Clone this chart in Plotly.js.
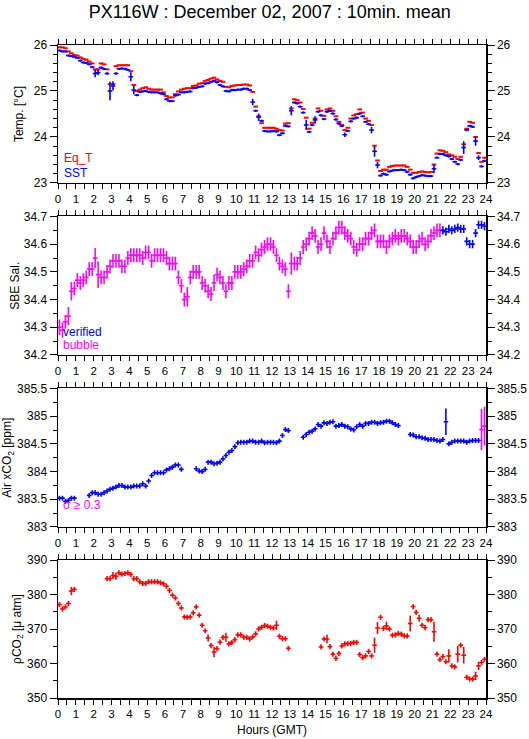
<!DOCTYPE html>
<html>
<head>
<meta charset="utf-8">
<script src="https://cdn.plot.ly/plotly-3.0.1.min.js"></script>
<style>html,body{margin:0;padding:0;background:#fff;}#chart{width:529px;height:739px;}</style>
</head>
<body>
<div id="chart"></div>
<script>
// ---- data: 10-minute means, 6 bins per hour (rows = hours 0..23) ----
const eqT = [
 25.95,25.95,25.93,25.86,25.82,25.78,
 25.77,25.73,25.70,25.68,25.64,25.60,
 25.47,25.47,25.60,25.58,25.47,25.15,
 25.15,25.54,25.56,25.56,25.56,25.56,
 25.43,25.13,25.00,25.03,25.06,25.08,
 25.05,25.03,25.03,25.03,25.03,24.97,
 24.89,24.86,24.86,24.93,24.99,25.03,
 25.05,25.06,25.06,25.11,25.12,25.16,
 25.17,25.22,25.24,25.27,25.29,25.25,
 25.22,25.20,25.09,25.08,25.11,25.12,
 25.13,25.13,25.14,25.14,25.12,24.98,
 24.66,24.45,24.30,24.20,24.20,24.20,
 24.20,24.18,24.15,24.14,24.29,24.30,
 24.62,24.82,24.80,24.75,24.61,24.42,
 24.18,24.31,24.40,24.62,24.57,24.46,
 24.60,24.62,24.57,24.45,24.33,24.26,
 24.15,24.20,24.40,24.47,24.50,24.60,
 24.53,24.40,24.35,24.26,23.81,23.49,
 23.26,23.29,23.29,23.35,23.37,23.38,
 23.38,23.38,23.38,23.35,23.29,23.22,
 23.22,23.24,23.25,23.24,23.23,23.24,
 23.40,23.64,23.71,23.70,23.67,23.62,
 23.60,23.57,23.52,23.57,23.84,24.18,
 24.33,24.31,24.00,23.65,23.46,23.55];
const sst = [
 25.88,25.86,25.86,25.77,25.76,25.74,
 25.72,25.66,25.62,25.61,25.58,25.52,
 25.38,25.40,25.51,25.48,25.38,25.00,
 25.11,25.38,25.48,25.49,25.48,25.46,
 25.31,25.02,24.91,24.98,24.99,25.00,
 24.98,24.97,24.97,24.97,24.95,24.93,
 24.82,24.78,24.78,24.90,24.92,24.97,
 24.97,24.98,24.99,25.06,25.07,25.09,
 25.10,25.16,25.17,25.20,25.22,25.19,
 25.13,25.10,25.00,24.99,25.02,25.02,
 25.03,25.03,25.05,25.05,25.02,24.76,
 24.57,24.43,24.35,24.13,24.12,24.12,
 24.13,24.12,24.04,24.08,24.24,24.23,
 24.57,24.75,24.73,24.66,24.53,24.26,
 24.11,24.26,24.37,24.55,24.47,24.39,
 24.55,24.57,24.51,24.38,24.29,24.24,
 24.05,24.13,24.34,24.40,24.42,24.51,
 24.45,24.33,24.28,24.15,23.69,23.39,
 23.16,23.20,23.18,23.25,23.27,23.28,
 23.28,23.29,23.28,23.24,23.18,23.10,
 23.13,23.15,23.17,23.16,23.15,23.15,
 23.31,23.55,23.63,23.63,23.60,23.58,
 23.52,23.46,23.41,23.50,23.77,24.15,
 24.24,24.22,23.91,23.55,23.36,23.48];
const sstErrDefault = 0.025;
const sstErrLarge = [[12,0.08],[13,0.06],[17,0.2],[18,0.1],[24,0.1],[25,0.09],[65,0.07],[67,0.08],
 [78,0.1],[83,0.11],[86,0.08],[96,0.05],[105,0.07],[106,0.12],[107,0.07],[126,0.1],[136,0.14],[140,0.1],[141,0.05]];

const salinity = [
 34.30,34.29,34.32,34.34,34.43,34.44,
 34.47,34.46,34.47,34.48,34.51,34.51,
 34.55,34.49,34.48,34.48,34.50,34.52,
 34.54,34.54,34.54,34.52,34.52,34.55,
 34.56,34.56,34.56,34.56,34.55,34.57,
 34.57,34.54,34.56,34.56,34.56,34.56,
 34.55,34.53,34.53,34.53,34.48,34.45,
 34.40,34.41,34.48,34.50,34.50,34.50,
 34.46,34.45,34.43,34.42,34.46,34.49,
 34.48,34.46,34.43,34.46,34.46,34.50,
 34.50,34.50,34.51,34.52,34.54,34.54,
 34.57,34.56,34.58,34.59,34.60,34.60,
 34.59,34.56,34.53,34.52,34.51,34.43,
 34.53,34.53,34.53,34.55,34.59,34.60,
 34.62,34.64,34.63,34.59,34.60,34.64,
 34.61,34.59,34.62,34.64,34.66,34.66,
 34.64,34.63,34.62,34.59,34.58,34.60,
 34.60,34.62,34.62,34.64,34.65,34.61,
 34.61,34.61,34.59,34.61,34.62,34.63,
 34.62,34.63,34.63,34.62,34.61,34.59,
 34.59,34.61,34.62,34.60,34.61,34.63,
 34.64,34.65,34.65,34.65,34.645,34.655,
 34.65,34.655,34.66,34.655,34.655,34.61,
 34.60,34.60,34.64,34.67,34.67,34.665];
const salVerifiedFrom = 129;       // bins from here on are "verified"
const salErrBubble = 0.025, salErrVerified = 0.015;
const salErrLarge = [[0,0.028],[1,0.028],[3,0.033],[4,0.033],[12,0.036],[13,0.048],[43,0.035],[52,0.03],[78,0.04]];

const xco2 = [
 383.52,383.52,383.46,383.48,383.52,383.52,
 null,null,null,null,383.57,383.62,
 383.62,383.59,383.59,383.62,383.65,383.68,
 383.70,383.72,383.75,383.75,383.72,383.72,
 383.72,383.74,383.74,383.74,383.78,383.74,
 383.83,383.93,383.98,383.98,383.98,383.98,
 384.03,384.05,384.08,384.12,384.12,384.04,
 null,null,null,null,384.05,384.01,
 384.00,384.04,384.17,384.17,384.14,384.15,
 384.17,384.23,384.29,384.35,384.38,384.45,
 384.52,384.53,384.53,384.53,384.55,384.55,
 384.53,384.53,384.55,384.52,384.53,384.53,
 384.53,384.52,384.55,384.65,384.76,384.74,
 null,null,null,null,384.62,384.67,
 384.71,384.73,384.77,384.85,384.82,384.88,
 384.87,384.89,384.90,384.82,384.83,384.85,
 384.82,384.81,384.77,384.75,384.81,384.85,
 384.82,384.87,384.87,384.89,384.89,384.87,
 384.88,384.89,384.91,384.91,384.88,384.85,
 384.83,null,null,null,384.67,384.66,
 384.63,384.63,384.61,384.60,384.58,384.58,
 384.58,384.56,384.55,384.58,384.90,384.50,
 384.53,384.55,384.55,384.55,384.55,384.53,
 384.55,384.56,384.56,384.56,384.76,384.82];
const xco2ErrDefault = 0.045;
const xco2ErrLarge = [[130,0.24],[142,0.37],[143,0.35]];
const xco2SigmaFlag = [142,143];   // sigma >= 0.3

const pco2 = [
 377.1,375.8,376.4,377.4,381.0,381.5,
 null,null,null,null,null,null,
 null,null,null,null,384.6,384.6,
 385.5,385.3,386.3,385.9,386.1,386.3,
 385.8,384.6,384.6,383.7,383.2,383.2,
 383.7,383.7,383.7,383.7,383.4,383.1,
 382.4,381.2,379.8,379.0,377.4,376.1,
 373.5,373.4,373.5,374.7,376.4,374.0,
 371.1,369.5,367.4,365.2,363.3,364.3,
 366.2,367.6,367.6,365.7,366.1,366.9,
 368.3,368.3,367.6,367.6,367.1,367.7,
 368.6,370.0,370.5,371.0,370.8,370.5,
 370.3,371.1,367.9,367.2,367.2,364.4,
 null,null,null,null,null,null,
 null,null,null,null,364.8,367.1,
 367.1,364.9,362.7,361.5,362.9,365.1,
 365.7,365.8,365.8,366.1,366.1,362.6,
 361.7,362.2,363.5,362.2,365.3,370.3,
 373.4,370.2,370.9,370.0,368.2,368.3,
 368.7,368.5,368.0,368.0,371.6,376.5,
 374.8,373.1,371.1,370.4,372.7,372.7,
 369.2,362.7,361.1,362.0,360.5,362.2,
 359.3,359.0,362.7,365.3,362.4,356.0,
 355.5,355.5,356.4,359.3,360.3,361.2];
const pco2ErrDefault = 0.75;
const pco2ErrLarge = [[4,1.2],[18,1.0],[19,1.0],[50,1.0],[52,1.5],[56,1.3],[73,1.3],[90,1.2],[106,2.2],[107,1.7],
 [110,1.2],[118,2.3],[121,1.0],[126,2.9],[131,1.9],[134,2.4],[136,2.4],[140,1.2],[141,1.2]];

const hourTicks = ['0','1','2','3','4','5','6','7','8','9','10','11','12','13','14','15','16','17','18','19','20','21','22','23','24'];

// ---- build ----
const N = eqT.length;
const hours = Array.from({length: N}, (_, i) => (i + 0.5) / 6);
function errArr(def, large) { const a = new Array(N).fill(def); large.forEach(([i, v]) => a[i] = v); return a; }

const RED = '#ff0000', BLUE = '#0000ff', MAG = '#ff00ff';
const HW = 0.13;
function eb(ys, err, color, xa, ya, th) {
  return {
    type: 'scatter', mode: 'markers', x: hours, y: ys, xaxis: xa, yaxis: ya,
    marker: {size: 1, color: color},
    error_x: {type: 'constant', value: HW, color: color, thickness: th, width: 0},
    error_y: err ? {type: 'data', array: err, color: color, thickness: th, width: 0} : {visible: false},
    showlegend: false, hoverinfo: 'skip'
  };
}

const salErr = errArr(salErrBubble, salErrLarge);
const salBubble = salinity.map((v, i) => i < salVerifiedFrom ? v : null);
const salVer = salinity.map((v, i) => i >= salVerifiedFrom ? v : null);
const salVerErr = salinity.map(() => salErrVerified);
const xco2Ok = xco2.map((v, i) => xco2SigmaFlag.includes(i) ? null : v);
const xco2Bad = xco2.map((v, i) => xco2SigmaFlag.includes(i) ? v : null);
const xco2Err = errArr(xco2ErrDefault, xco2ErrLarge);

const traces = [
  eb(eqT, null, RED, 'x', 'y', 2),
  eb(sst, errArr(sstErrDefault, sstErrLarge), BLUE, 'x', 'y', 1.6),
  eb(salBubble, salErr, MAG, 'x2', 'y2', 1.6),
  eb(salVer, salVerErr, BLUE, 'x2', 'y2', 1.6),
  eb(xco2Ok, xco2Err, BLUE, 'x3', 'y3', 1.6),
  eb(xco2Bad, xco2Err, MAG, 'x3', 'y3', 1.6),
  eb(pco2, errArr(pco2ErrDefault, pco2ErrLarge), RED, 'x4', 'y4', 1.6)
];
// dummy traces so the right-hand axes exist
[['x','y5'],['x2','y6'],['x3','y7'],['x4','y8']].forEach(([xa, ya]) =>
  traces.push({type: 'scatter', mode: 'markers', x: [null], y: [null], xaxis: xa, yaxis: ya, showlegend: false, hoverinfo: 'skip'}));

const FONT = 'Liberation Sans, Arial, Helvetica, sans-serif';
function xax(anchor, withTitle) {
  const a = {
    anchor: anchor, range: [0, 24], tickmode: 'array', tickvals: hourTicks.map(Number), ticktext: hourTicks,
    ticks: 'outside', ticklen: 5, tickwidth: 1, tickcolor: '#000',
    minor: {dtick: 0.5, tick0: 0, ticks: 'outside', ticklen: 5, tickwidth: 1, tickcolor: '#000', showgrid: false},
    showline: true, linecolor: '#000', linewidth: 1.5, mirror: 'ticks',
    showgrid: false, zeroline: false, tickfont: {size: 11.5, color: '#000'}, fixedrange: true
  };
  if (withTitle) a.title = {text: 'Hours (GMT)', font: {size: 12, color: '#000'}, standoff: 6};
  return a;
}
function yax(domain, range, dtick, minor, title, anchor, right, overlay) {
  const a = {
    domain: domain, range: range, dtick: dtick, tick0: range[0], anchor: anchor,
    ticks: 'outside', ticklen: 7, tickwidth: 1, tickcolor: '#000',
    minor: {dtick: minor, tick0: range[0], ticks: 'outside', ticklen: 4, tickwidth: 1, tickcolor: '#000', showgrid: false},
    showline: true, linecolor: '#000', linewidth: 1.5,
    showgrid: false, zeroline: false, tickfont: {size: 12, color: '#000'}, fixedrange: true
  };
  if (right) { a.side = 'right'; a.overlaying = overlay; }
  else a.title = {text: title, font: {size: 12, color: '#000'}};
  return a;
}
const D1 = [0.7887, 1], D2 = [0.5253, 0.7374], D3 = [0.2619, 0.474], D4 = [0, 0.2113];

const layout = {
  width: 529, height: 739,
  margin: {l: 58.3, r: 43.3, t: 45, b: 41},
  paper_bgcolor: '#fff', plot_bgcolor: '#fff',
  font: {family: FONT, color: '#000'},
  title: {text: 'PX116W : December 02, 2007 : 10min. mean', x: 0.51, xanchor: 'center',
          y: 1 - 12 / 739, yanchor: 'middle', yref: 'container', font: {size: 18, color: '#000'}},
  xaxis: xax('y', false), xaxis2: xax('y2', false), xaxis3: xax('y3', false), xaxis4: xax('y4', true),
  yaxis: yax(D1, [23, 26], 1, 0.2, 'Temp. [°C]', 'x'),
  yaxis2: yax(D2, [34.2, 34.7], 0.1, 0.05, 'SBE Sal.', 'x2'),
  yaxis3: yax(D3, [383, 385.5], 0.5, 0.25, 'Air xCO<sub>2</sub> [ppm]', 'x3'),
  yaxis4: yax(D4, [350, 390], 10, 5, 'ρCO<sub>2</sub> [μ atm]', 'x4'),
  yaxis5: yax(D1, [23, 26], 1, 0.2, '', 'x', true, 'y'),
  yaxis6: yax(D2, [34.2, 34.7], 0.1, 0.05, '', 'x2', true, 'y2'),
  yaxis7: yax(D3, [383, 385.5], 0.5, 0.25, '', 'x3', true, 'y3'),
  yaxis8: yax(D4, [350, 390], 10, 5, '', 'x4', true, 'y4'),
  showlegend: false,
  annotations: [
    {xref: 'x', yref: 'y', x: 0.2, y: 23.54, text: 'Eq_T', showarrow: false, xanchor: 'left', yanchor: 'middle', font: {size: 12, color: RED}},
    {xref: 'x', yref: 'y', x: 0.2, y: 23.22, text: 'SST', showarrow: false, xanchor: 'left', yanchor: 'middle', font: {size: 12, color: BLUE}},
    {xref: 'x2', yref: 'y2', x: 0.18, y: 34.283, text: 'verified', showarrow: false, xanchor: 'left', yanchor: 'middle', font: {size: 12, color: BLUE}},
    {xref: 'x2', yref: 'y2', x: 0.18, y: 34.235, text: 'bubble', showarrow: false, xanchor: 'left', yanchor: 'middle', font: {size: 12, color: MAG}},
    {xref: 'x3', yref: 'y3', x: 0.15, y: 383.40, text: 'σ ≥ 0.3', showarrow: false, xanchor: 'left', yanchor: 'middle', font: {size: 12, color: MAG}}
  ]
};

Plotly.newPlot('chart', traces, layout, {staticPlot: true, displayModeBar: false});
</script>
</body>
</html>
